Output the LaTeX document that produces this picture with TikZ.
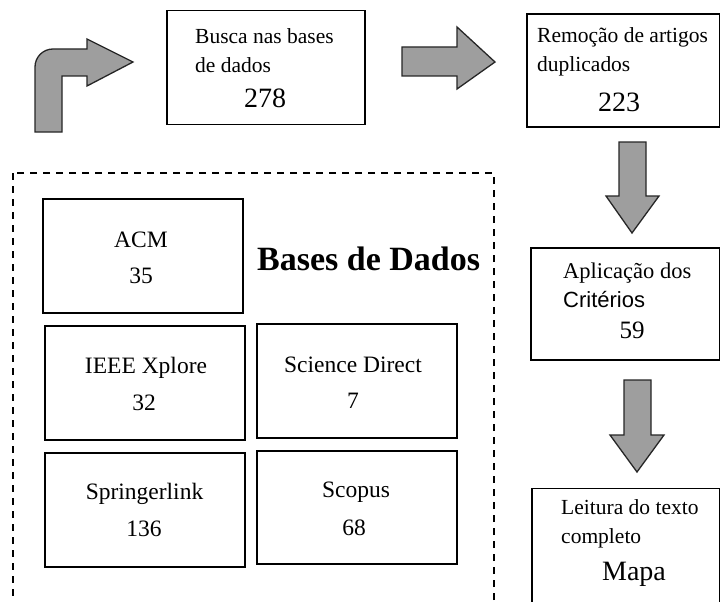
\documentclass[tikz,border=0pt]{standalone}
\usepackage{fontspec}
\setmainfont{Liberation Serif}
\newfontfamily\arialfont{Liberation Sans}
\definecolor{arrowgray}{RGB}{158,158,158}
\begin{document}
\begin{tikzpicture}[x=1pt,y=-1pt,
  box/.style={draw, line width=1.3pt, inner sep=0pt},
  blockarrow/.style={draw=black!85, fill=arrowgray, line width=1.3pt, line join=miter},
  lt/.style={anchor=base west, inner sep=0pt, font=\fontsize{21.5}{24}\selectfont},
  ct/.style={anchor=base, inner sep=0pt, font=\fontsize{23.5}{26}\selectfont},
  big/.style={anchor=base, inner sep=0pt, font=\fontsize{28}{30}\selectfont}]
\useasboundingbox (0,0) rectangle (721,602);
\clip (0,0) rectangle (721,602);
\fill[white] (0,0) rectangle (721,602);

% top flow boxes
\node[box, minimum width=198pt, minimum height=114pt] (busca) at (266,67.5) {};
\node[lt] (busca1) at (195,44) {Busca nas bases};
\node[lt] (busca2) at (195,73) {de dados};
\node[big] (busca3) at (265,107) {278};

\node[box, minimum width=192.5pt, minimum height=113pt] (remocao) at (623.25,70.5) {};
\node[lt] (rem1) at (537,43) {Remoção de artigos};
\node[lt] (rem2) at (537,72) {duplicados};
\node[big] (rem3) at (619,111) {223};

\node[box, minimum width=188.5pt, minimum height=112pt] (aplic) at (625.25,304) {};
\node[lt, font=\fontsize{22.5}{25}\selectfont] (apl1) at (563,278) {Aplicação dos};
\node[lt, font=\arialfont\fontsize{22}{25}\selectfont] (apl2) at (563,307) {Critérios};
\node[big, font=\fontsize{25}{27}\selectfont] (apl3) at (632,338) {59};

\node[box, minimum width=187.5pt, minimum height=153pt] (leitura) at (625.75,565) {};
\node[lt] (lei1) at (561,514) {Leitura do texto};
\node[lt] (lei2) at (561,543) {completo};
\node[big] (lei3) at (634,580) {Mapa};

% block arrows
\draw[blockarrow] (35,132) -- (35,67) .. controls (35,57) and (43,49) .. (53,49)
  -- (87,49) -- (87,39) -- (133,62) -- (87,86) -- (87,76) -- (62,76) -- (62,132) -- cycle;
\draw[blockarrow] (402,47) -- (457,47) -- (457,27) -- (495,62) -- (457,89) -- (457,76) -- (402,76) -- cycle;
\draw[blockarrow] (619,142) -- (646,142) -- (646,196) -- (659,196) -- (632,233) -- (606,196) -- (619,196) -- cycle;
\draw[blockarrow] (624,380) -- (651,380) -- (651,435) -- (664,435) -- (637,472) -- (610,435) -- (624,435) -- cycle;

% databases group
\draw[line width=1.2pt, dash pattern=on 7pt off 6pt] (13,173) rectangle (494,640);
\node[anchor=base west, inner sep=0pt, font=\bfseries\fontsize{34}{36}\selectfont] (bases) at (257,270) {Bases de Dados};

\node[box, minimum width=200pt, minimum height=114pt] (acm) at (143,256) {};
\node[ct] (acm1) at (141,247) {ACM};
\node[ct] (acm2) at (141,283) {35};

\node[box, minimum width=200pt, minimum height=114pt] (ieee) at (145,383) {};
\node[ct] (ieee1) at (146,373) {IEEE Xplore};
\node[ct] (ieee2) at (144,410) {32};

\node[box, minimum width=200pt, minimum height=114pt] (sd) at (357,381) {};
\node[ct] (sd1) at (353,372) {Science Direct};
\node[ct] (sd2) at (353,408) {7};

\node[box, minimum width=200pt, minimum height=114pt] (spr) at (145,510) {};
\node[ct] (spr1) at (144.5,499) {Springerlink};
\node[ct] (spr2) at (144,536) {136};

\node[box, minimum width=200pt, minimum height=113pt] (scop) at (357,507.5) {};
\node[ct] (scop1) at (356,497) {Scopus};
\node[ct] (scop2) at (354,535) {68};
\end{tikzpicture}
\end{document}
